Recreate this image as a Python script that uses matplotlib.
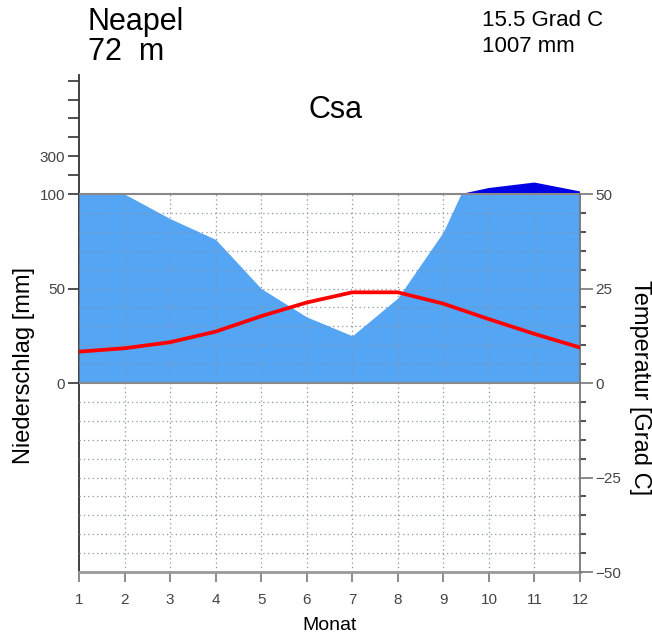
import numpy as np
import matplotlib.pyplot as plt
from matplotlib.patches import Rectangle
from matplotlib.ticker import FixedLocator

plt.rcParams['font.family'] = ['Liberation Sans', 'DejaVu Sans']

# Klimadiagramm Neapel (Walter-Lieth)
station = 'Neapel'
elevation = '72  m'
koeppen = 'Csa'
mean_temp = '15.5 Grad C'
annual_precip = '1007 mm'

months = np.arange(1, 13)
precip = np.array([104, 100, 87, 76, 50, 35, 25, 45, 80, 132, 161, 114])   # mm
temp = np.array([8.3, 9.2, 10.8, 13.6, 17.7, 21.3, 24.0, 24.0, 21.0, 16.9, 13.0, 9.4])  # Grad C

mm_ticks = [0, 50, 100, 200, 300, 400, 500, 600, 700]
mm_labels = ['0', '50', '100', '', '300', '', '', '', '']
temp_ticks = [-50, -25, 0, 25, 50]
mm_top = 730

light_blue = '#55a5f5'
dark_blue = '#0000e6'
grid_col = '#8a93a8'
tick_col = '#444444'


def squeeze(mm):
    # above 100 mm the scale is reduced to 1/10
    mm = np.asarray(mm, dtype=float)
    return np.where(mm > 100, 100 + (mm - 100) / 10, mm)


def unsqueeze(y):
    y = np.asarray(y, dtype=float)
    return np.where(y > 100, 100 + (y - 100) * 10, y)


fig = plt.figure(figsize=(6.52, 6.36), dpi=100)
ax = fig.add_axes([79 / 652, 64 / 636, 501 / 652, 497 / 636])
ax.set_yscale('function', functions=(squeeze, unsqueeze))
ax.set_xlim(1, 12)
ax.set_ylim(-100, mm_top)
top = float(squeeze(mm_top))

# dark blue part above 100 mm (compressed scale)
ax.fill_between(months, 100, precip, where=precip >= 100, interpolate=True,
                color=dark_blue, lw=0, zorder=1)

ax.set_yticks(mm_ticks)
ax.set_yticklabels(mm_labels)
ax.tick_params(axis='y', direction='out', length=8, width=1.2, color='#333333',
               labelsize=11, labelcolor=tick_col, pad=2)
ax.set_xticks(months)
ax.tick_params(axis='x', direction='out', length=7, width=1.2, color='#777777',
               labelsize=11, labelcolor=tick_col, pad=8)
ax.spines['top'].set_visible(False)
ax.spines['right'].set_visible(False)
ax.spines['left'].set_color('#333333')
ax.spines['left'].set_linewidth(1.3)
ax.spines['bottom'].set_color('#999999')
ax.spines['bottom'].set_linewidth(2)

# linear layer for the humid area and the grid
axl = ax.twinx()
axl.set_ylim(-100, top)
axl.set_yticks([])
for s in axl.spines.values():
    s.set_visible(False)
wet = axl.fill_between(months, 0, precip, color=light_blue, lw=0, zorder=1)
wet.set_clip_path(Rectangle((1, 0), 11, 100, transform=axl.transData))
hgrid = [v for v in range(-90, 100, 10) if v != 0]
axl.hlines(hgrid, 1, 12, colors=grid_col, linestyles=(0, (1, 2.5)), lw=0.9, zorder=2)
axl.vlines(months[1:-1], -100, 100, colors=grid_col, linestyles=(0, (1, 2.5)), lw=0.9, zorder=2)
axl.axhline(0, color='#888888', lw=1.5, zorder=3)
axl.axhline(100, color='#888888', lw=1.5, zorder=3)

# temperature
axt = ax.twinx()
axt.set_ylim(-50, top / 2)
axt.plot(months, temp, color='#ff0000', lw=2.7, zorder=4)
for name in ['top', 'left', 'bottom']:
    axt.spines[name].set_visible(False)
axt.spines['right'].set_bounds(-50, 50)
axt.spines['right'].set_color('#777777')
axt.spines['right'].set_linewidth(1.3)
axt.set_yticks(temp_ticks)
axt.yaxis.set_minor_locator(FixedLocator([v for v in range(-50, 51, 5) if v not in temp_ticks]))
axt.tick_params(axis='y', which='major', direction='out', length=9, width=1.2,
                color='#777777', labelsize=11, labelcolor=tick_col, pad=2)
axt.tick_params(axis='y', which='minor', direction='out', length=4, width=1.5,
                color='#555555')

fig.text(88 / 652, 1 - 22 / 636, station, fontsize=22, va='center', ha='left')
fig.text(88 / 652, 1 - 52 / 636, elevation, fontsize=22, va='center', ha='left')
fig.text(482 / 652, 1 - 20 / 636, mean_temp, fontsize=16, va='center', ha='left')
fig.text(482 / 652, 1 - 47 / 636, annual_precip, fontsize=16, va='center', ha='left')
fig.text(336 / 652, 1 - 110 / 636, koeppen, fontsize=22, va='center', ha='center')
fig.text(24 / 652, 1 - 365 / 636, 'Niederschlag [mm]', fontsize=17, rotation=90,
         va='center', ha='center')
fig.text(640 / 652, 1 - 388 / 636, 'Temperatur [Grad C]', fontsize=17, rotation=270,
         va='center', ha='center')
fig.text(330 / 652, 1 - 626 / 636, 'Monat', fontsize=14, va='center', ha='center')

fig.savefig('out.png', dpi=100)
